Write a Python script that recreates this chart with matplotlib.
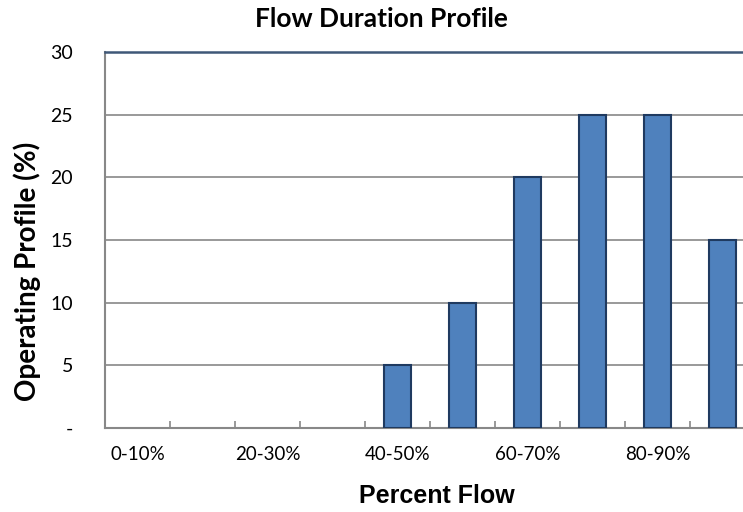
import matplotlib
matplotlib.use("Agg")
import matplotlib.pyplot as plt
import numpy as np

categories = ["0-10%", "10-20%", "20-30%", "30-40%", "40-50%",
              "50-60%", "60-70%", "70-80%", "80-90%", "90-100%"]
values = [0, 0, 0, 0, 5, 10, 20, 25, 25, 15]
ytick_vals = [0, 5, 10, 15, 20, 25, 30]
ytick_labels = ["-", "5", "10", "15", "20", "25", "30"]

plt.rcParams['font.family'] = ['Lato', 'DejaVu Sans']

W, H = 743, 512
fig = plt.figure(figsize=(W/100, H/100), dpi=100)
ax = fig.add_axes([105/W, 1-428/H, 650/W, (428-52)/H])

x = np.arange(len(categories)) + 0.5
lws = [1.5 if v > 0 else 0 for v in values]
ax.bar(x, values, width=0.42, color="#4F81BD", edgecolor="#1F3A60", linewidth=lws, zorder=3)

ax.set_xlim(0, len(categories))
ax.set_ylim(0, 30)
ax.set_yticks(ytick_vals)
ax.set_yticklabels(ytick_labels, fontsize=14)
ax.tick_params(axis='y', length=0, pad=23)

ax.set_xticks(np.arange(1, len(categories)))
ax.set_xticklabels([])
ax.set_xticks(x[::2], minor=True)
ax.set_xticklabels(categories[::2], minor=True, fontsize=13.5)
ax.tick_params(axis='x', which='major', direction='in', length=5, color='#888888', width=1.2)
ax.tick_params(axis='x', which='minor', length=0, pad=13)

ax.grid(axis='y', color='#888888', linewidth=1.2, zorder=0)
for s in ['left', 'bottom']:
    ax.spines[s].set_color('#888888')
    ax.spines[s].set_linewidth(1.5)
ax.spines['right'].set_visible(False)
ax.spines['top'].set_color('#3F5878')
ax.spines['top'].set_linewidth(1.8)

fig.text(437/W, 1-496/H, "Percent Flow", ha='center', va='center', fontsize=18,
         fontweight='bold', family=['Liberation Sans', 'DejaVu Sans'])
fig.text(27/W, 1-271/H, "Operating Profile (%)", ha='center', va='center', rotation=90,
         fontsize=20, fontweight='bold')
fig.text(381/W, 1-19/H, "Flow Duration Profile", ha='center', va='center', fontsize=19, fontweight='bold')

fig.savefig("out.png", dpi=100)
